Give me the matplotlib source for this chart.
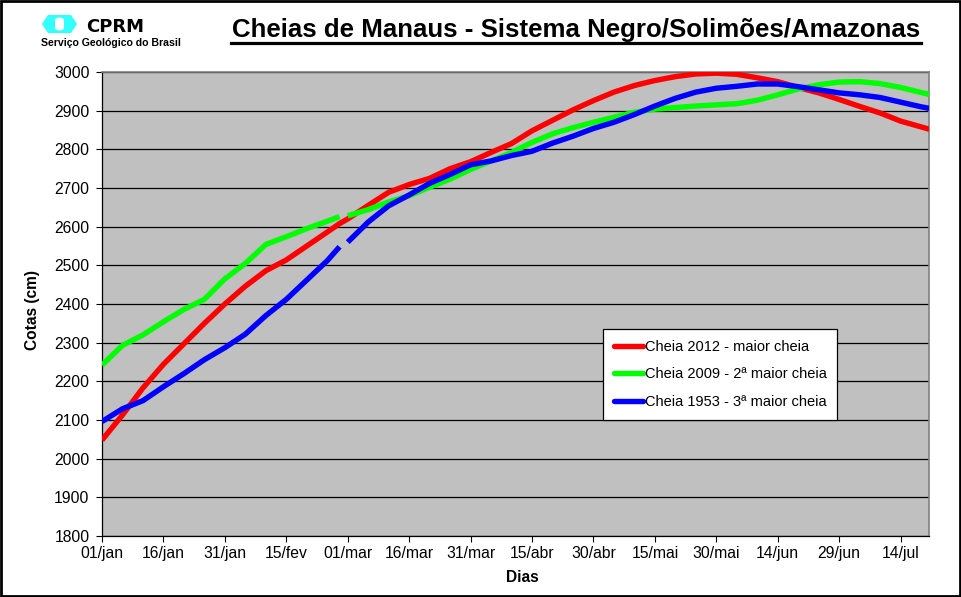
import numpy as np
import matplotlib
matplotlib.use('Agg')
import matplotlib.pyplot as plt
from matplotlib.patches import Rectangle, Polygon, FancyBboxPatch
from matplotlib.lines import Line2D

# ---------------- data ----------------
days = [0, 5, 10, 15, 20, 25, 30, 35, 40, 45, 50, 55, 58, 59, 60, 65, 70, 75, 80, 85,
        90, 95, 100, 105, 110, 115, 120, 125, 130, 135, 140, 145, 150, 155, 160, 165,
        170, 175, 180, 185, 190, 195, 200, 202]

cheia_2012 = [2048, 2113, 2183, 2244, 2297, 2350, 2400, 2446, 2486, 2514, 2550, 2586,
              2608, 2614, 2620, 2655, 2689, 2709, 2725, 2750, 2768, 2792, 2815, 2848,
              2875, 2902, 2926, 2948, 2965, 2978, 2988, 2995, 2997, 2994, 2985, 2975,
              2960, 2946, 2929, 2911, 2894, 2873, 2858, 2852]

cheia_2009 = [2242, 2293, 2320, 2354, 2386, 2412, 2465, 2505, 2554, 2574, 2595, 2614,
              2626, np.nan, 2628, 2644, 2664, 2680, 2702, 2723, 2748, 2770, 2792, 2818,
              2840, 2856, 2870, 2883, 2896, 2904, 2908, 2912, 2915, 2918, 2927, 2941,
              2956, 2967, 2974, 2975, 2970, 2960, 2947, 2942]

cheia_1953 = [2096, 2129, 2150, 2186, 2220, 2256, 2287, 2322, 2370, 2412, 2462, 2512,
              2548, np.nan, 2560, 2612, 2654, 2682, 2712, 2735, 2760, 2770, 2784, 2795,
              2816, 2834, 2854, 2870, 2890, 2912, 2932, 2948, 2958, 2963, 2969, 2969,
              2962, 2954, 2946, 2941, 2934, 2922, 2910, 2906]

series_labels = ['Cheia 2012 - maior cheia',
                 'Cheia 2009 - 2ª maior cheia',
                 'Cheia 1953 - 3ª maior cheia']
series_colors = ['#FF0000', '#00FF00', '#0000FF']

xtick_days = [0, 15, 30, 45, 60, 75, 90, 105, 120, 135, 150, 165, 180, 195]
xtick_labels = ['01/jan', '16/jan', '31/jan', '15/fev', '01/mar', '16/mar', '31/mar',
                '15/abr', '30/abr', '15/mai', '30/mai', '14/jun', '29/jun', '14/jul']
yticks = list(range(1800, 3001, 100))

title = 'Cheias de Manaus - Sistema Negro/Solimões/Amazonas'

# ---------------- figure ----------------
plt.rcParams['font.family'] = ['Liberation Sans', 'DejaVu Sans']
W, H = 962, 597
fig = plt.figure(figsize=(W / 100, H / 100), dpi=100)
fig.patch.set_facecolor('white')

ax = fig.add_axes([102 / W, 1 - 536 / H, (929.3 - 102) / W, (536 - 72) / H])
ax.set_facecolor('#C0C0C0')

for vals, lab, col in zip([cheia_2012, cheia_2009, cheia_1953], series_labels, series_colors):
    ax.plot(days, vals, color=col, lw=3.9, label=lab, solid_capstyle='butt',
            solid_joinstyle='round', zorder=3)

ax.set_xlim(0, 202)
ax.set_ylim(1800, 3000)
ax.set_xticks(xtick_days)
ax.set_xticklabels(xtick_labels)
ax.set_yticks(yticks)
ax.set_yticklabels([str(v) for v in yticks])
ax.tick_params(axis='both', direction='out', length=4, width=0.8, labelsize=11.3,
               colors='black')
ax.tick_params(axis='y', pad=5)
ax.tick_params(axis='x', pad=3.5)

ax.set_axisbelow(True)
ax.grid(axis='y', color='black', lw=0.9)
ax.grid(axis='x', visible=False)

for s in ['left', 'bottom']:
    ax.spines[s].set_color('black')
    ax.spines[s].set_linewidth(0.9)
for s in ['top', 'right']:
    ax.spines[s].set_color('#808080')
    ax.spines[s].set_linewidth(1.2)

leg = ax.legend(loc='upper left', bbox_to_anchor=(603 / W, 1 - 329 / H),
                bbox_transform=fig.transFigure, borderaxespad=0, fontsize=10.5,
                frameon=True, fancybox=False, edgecolor='black', framealpha=1,
                handlelength=2.0, handletextpad=0.1, labelspacing=0.93,
                borderpad=0.75)
leg.get_frame().set_linewidth(0.9)
for l in leg.get_lines():
    l.set_linewidth(3.9)
    l.set_solid_capstyle('round')

# axis labels
fig.text(522 / W, 1 - 577 / H, 'Dias', fontsize=11.2, fontweight='bold',
         ha='center', va='center')
fig.text(33 / W, 1 - 310 / H, 'Cotas (cm)', fontsize=11.2, fontweight='bold',
         ha='center', va='center', rotation=90)

# title with underline
t = fig.text(576 / W, 1 - 36.7 / H, title, fontsize=18.6, fontweight='bold',
             ha='center', va='baseline')
fig.canvas.draw()
bb = t.get_window_extent(renderer=fig.canvas.get_renderer())
fig.add_artist(Line2D([(bb.x0 - 1) / W, (bb.x1 + 1) / W], [1 - 42.5 / H, 1 - 42.5 / H],
                      transform=fig.transFigure, color='black', lw=2.3))

# CPRM logo
hexagon = Polygon([(42 / W, 1 - 24 / H), (48 / W, 1 - 15 / H), (71 / W, 1 - 15 / H),
                   (77 / W, 1 - 24 / H), (71 / W, 1 - 33 / H), (48 / W, 1 - 33 / H)],
                  closed=True, transform=fig.transFigure, facecolor='#33FFFF',
                  edgecolor='none')
fig.add_artist(hexagon)
slot = FancyBboxPatch((55 / W, 1 - 30.5 / H), 9 / W, 13 / H,
                      boxstyle='round,pad=0,rounding_size=0.005',
                      transform=fig.transFigure, facecolor='white', edgecolor='none')
fig.add_artist(slot)
fig.text(86 / W, 1 - 32 / H, 'CPRM', fontsize=13, fontweight='bold',
         family=['DejaVu Sans'], ha='left', va='baseline')
fig.text(41 / W, 1 - 42.8 / H, 'Serviço Geológico do Brasil', fontsize=7.6,
         fontweight='bold', ha='left', va='center')

# figure border
fig.add_artist(Rectangle((0.001, 0.001), 0.997, 0.997, transform=fig.transFigure,
                         fill=False, edgecolor='black', lw=2))

fig.savefig('out.png', dpi=100)
